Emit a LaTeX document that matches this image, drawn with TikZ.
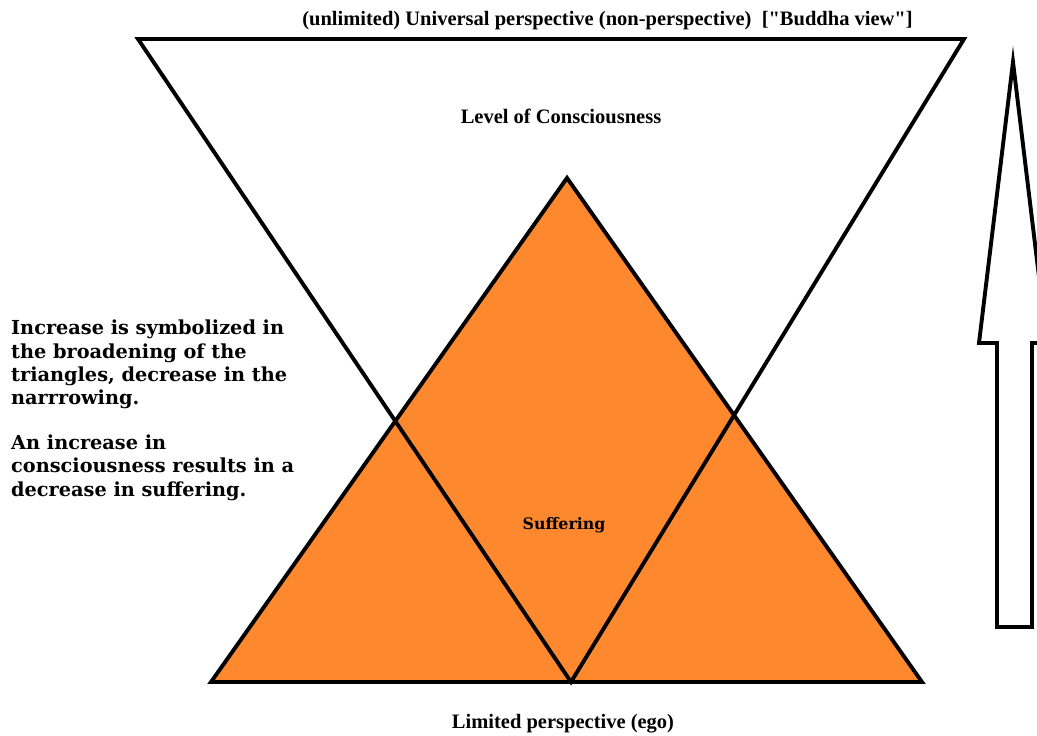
\documentclass[tikz,border=0pt]{standalone}
\usepackage{fontspec}
\newfontfamily\labelfont{Liberation Serif}
\newfontfamily\notefont{DejaVu Serif}
\definecolor{suffer}{RGB}{254,136,46}

\begin{document}
\begin{tikzpicture}[x=1pt,y=-1pt,line join=miter,
      edgeline/.style={draw=black,line width=3.9pt},
      label/.style={inner sep=0pt,font=\labelfont\bfseries\fontsize{20.5}{24}\selectfont},
      note/.style={inner sep=0pt,align=left,font=\notefont\bfseries\fontsize{19.3}{23.3}\selectfont}]

    \useasboundingbox (0,0) rectangle (1037,736);
    \clip (0,0) rectangle (1037,736);

    % consciousness (inverted) triangle
    \coordinate (ctl) at (138,39);
    \coordinate (ctr) at (964,39);
    \coordinate (cbot) at (571,682);

    % suffering triangle
    \coordinate (stop) at (567,178);
    \coordinate (sbl) at (211,682);
    \coordinate (sbr) at (922,682);

    \filldraw[edgeline,fill=suffer] (sbl) -- (stop) -- (sbr) -- cycle;
    \draw[edgeline] (ctl) -- (ctr) -- (cbot) -- cycle;

    % arrow on the right
    \coordinate (tip) at (1013,62);
    \coordinate (hl) at (979,343);
    \coordinate (hr) at (1047,343);
    \coordinate (sl) at (997,343);
    \coordinate (sr) at (1032,343);
    \coordinate (bl) at (997,627);
    \coordinate (br) at (1032,627);
    \draw[edgeline] (tip) -- (hr) -- (sr) -- (br) -- (bl) -- (sl) -- (hl) -- cycle;

    \node[label] (universal) at (607.5,21)
      {(unlimited) Universal perspective (non-perspective)\ \ ["Buddha view"]};
    \node[label] (level) at (561,116) {Level of Consciousness};
    \node[label,font=\notefont\bfseries\fontsize{15.8}{19}\selectfont] (suffering) at (564,525) {Suffering};
    \node[label] (limited) at (563,724) {Limited perspective (ego)};

    \node[note,anchor=north west] (explain) at (11,320)
      {Increase is symbolized in\\
       the broadening of the\\
       triangles, decrease in the\\
       narrrowing.\\[21.5pt]
       An increase in\\
       consciousness results in a\\
       decrease in suffering.};
\end{tikzpicture}
\end{document}
